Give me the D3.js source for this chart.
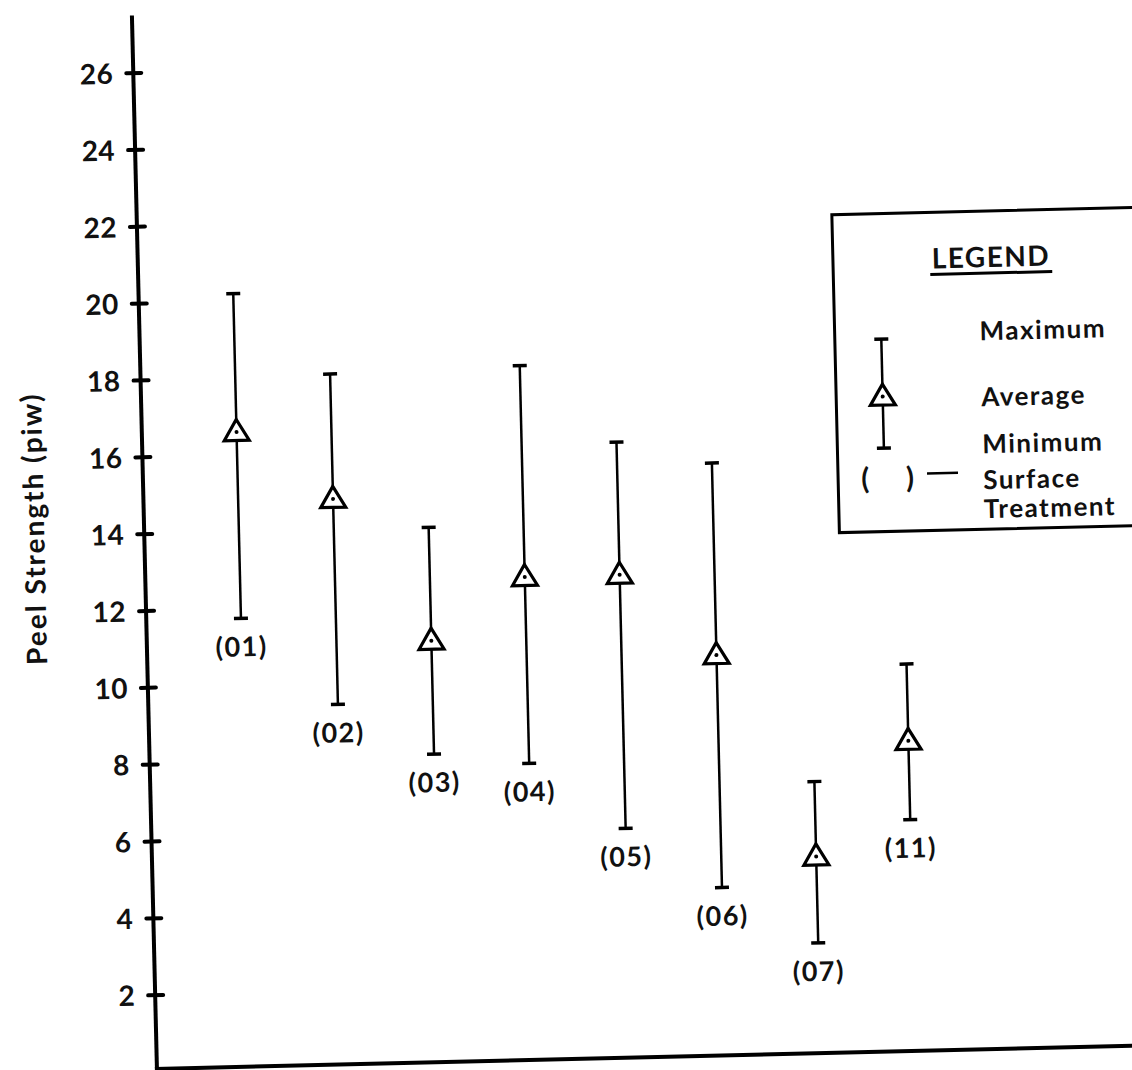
<!DOCTYPE html>
<html>
<head>
<meta charset="utf-8">
<script src="https://cdn.jsdelivr.net/npm/d3@7"></script>
<style>
  body { margin: 0; background: #fff; }
  svg { display: block; }
  text { font-family: Lato, "DejaVu Sans", sans-serif; fill: #111; }
</style>
</head>
<body>
<div id="chart"></div>
<script>
"use strict";

// values (peel strength, piw)
const treatments = ["01", "02", "03", "04", "05", "06", "07", "11"];
const maxValues  = [20.2, 18.05, 14.0, 18.15, 16.1, 15.5, 7.15, 10.15];
const avgValues  = [16.6, 14.8, 11.05, 12.65, 12.65, 10.5, 5.2, 8.15];
const minValues  = [11.75, 9.45, 8.1, 7.8, 6.05, 4.45, 2.95, 6.1];
const yTicks     = [2, 4, 6, 8, 10, 12, 14, 16, 18, 20, 22, 24, 26];
const yLabel     = "Peel Strength (piw)";
const legendTitle = "LEGEND";
const legendLabels = ["Maximum", "Average", "Minimum", "Surface", "Treatment"];

const width = 1132, height = 1070;
const ox = 157, oy = 1072;   // origin of the axes
const tilt = -1.36;          // the scan is slightly rotated

const data = treatments.map((t, i) => ({
    name: t, max: maxValues[i], avg: avgValues[i], min: minValues[i]
}));

const svg = d3.select("#chart").append("svg")
    .attr("width", width)
    .attr("height", height);

const g = svg.append("g")
    .attr("transform", "rotate(" + tilt + "," + ox + "," + oy + ")");

const x = d3.scalePoint().domain(treatments).range([251.7, 916]);
const y = d3.scaleLinear().domain([0, 26]).range([oy, oy - 26 * 38.43]);

// axes
g.append("line")
    .attr("x1", ox).attr("x2", ox)
    .attr("y1", y(0)).attr("y2", y(27.5))
    .style("stroke", "#000").style("stroke-width", 4);
g.append("line")
    .attr("x1", ox - 2).attr("x2", 1220)
    .attr("y1", y(0.08)).attr("y2", y(0.08))
    .style("stroke", "#000").style("stroke-width", 4);

const ticks = g.selectAll("g.tick").data(yTicks).enter()
    .append("g").attr("class", "tick")
    .attr("transform", d => "translate(" + ox + "," + y(d) + ")");
ticks.append("line")
    .attr("x1", -7).attr("x2", 8)
    .style("stroke", "#000").style("stroke-width", 4)
    .style("stroke-linecap", "round");
ticks.append("text")
    .attr("x", -20).attr("dy", "0.36em")
    .style("text-anchor", "end")
    .style("font-size", "28px").style("font-weight", "bold")
    .style("letter-spacing", "0.5px")
    .text(d => d);

g.append("text")
    .attr("transform", "translate(57,526) rotate(-90)")
    .style("text-anchor", "middle")
    .style("font-size", "28px").style("font-weight", "bold")
    .style("letter-spacing", "2px")
    .text(yLabel);

// error bars
function triangle(sel) {
    sel.append("path")
        .attr("d", "M0,-12.5 L12.5,8.5 L-12.5,8.5 Z")
        .style("fill", "#fff").style("stroke", "#000")
        .style("stroke-width", 3.2).style("stroke-linejoin", "miter");
    sel.append("circle").attr("r", 2).style("fill", "#000");
}

const bars = g.selectAll("g.bar").data(data).enter()
    .append("g").attr("class", "bar")
    .attr("transform", d => "translate(" + x(d.name) + ",0)");
bars.append("line")
    .attr("y1", d => y(d.max)).attr("y2", d => y(d.min))
    .style("stroke", "#000").style("stroke-width", 2.5);
bars.selectAll("line.cap")
    .data(d => [d.max, d.min]).enter()
    .append("line").attr("class", "cap")
    .attr("x1", -7).attr("x2", 7)
    .attr("y1", v => y(v)).attr("y2", v => y(v))
    .style("stroke", "#000").style("stroke-width", 3.5);
bars.append("g")
    .attr("transform", d => "translate(0," + y(d.avg) + ")")
    .call(triangle);
bars.append("text")
    .attr("y", d => y(d.min) + 38)
    .style("text-anchor", "middle")
    .style("font-size", "27px").style("font-weight", "bold")
    .style("letter-spacing", "1.5px")
    .text(d => "(" + d.name + ")");

// legend
const lg = g.append("g");
lg.append("rect")
    .attr("x", 852).attr("y", 231)
    .attr("width", 340).attr("height", 318)
    .style("fill", "none").style("stroke", "#000").style("stroke-width", 3);
lg.append("text")
    .attr("x", 1010).attr("y", 287)
    .style("text-anchor", "middle")
    .style("font-size", "28px").style("font-weight", "bold")
    .style("letter-spacing", "1.5px")
    .text(legendTitle);
lg.append("line")
    .attr("x1", 949).attr("x2", 1071)
    .attr("y1", 293).attr("y2", 293)
    .style("stroke", "#000").style("stroke-width", 3);

const legendY = [360, 426, 473, 509, 538];
lg.selectAll("text.item").data(legendLabels).enter()
    .append("text").attr("class", "item")
    .attr("x", 997).attr("y", (d, i) => legendY[i])
    .style("font-size", "26px").style("font-weight", "bold")
    .style("letter-spacing", "1.5px")
    .text(d => d);

const sym = lg.append("g").attr("transform", "translate(898.5,0)");
sym.append("line").attr("y1", 356.5).attr("y2", 465.5)
    .style("stroke", "#000").style("stroke-width", 2.5);
sym.selectAll("line.cap").data([356.5, 465.5]).enter()
    .append("line").attr("class", "cap")
    .attr("x1", -7).attr("x2", 7)
    .attr("y1", d => d).attr("y2", d => d)
    .style("stroke", "#000").style("stroke-width", 3.5);
sym.append("g").attr("transform", "translate(0,414)").call(triangle);

lg.append("text").attr("x", 879).attr("y", 506)
    .style("text-anchor", "middle").style("font-size", "29px").style("font-weight", "bold")
    .text("(");
lg.append("text").attr("x", 924).attr("y", 506)
    .style("text-anchor", "middle").style("font-size", "29px").style("font-weight", "bold")
    .text(")");
lg.append("line")
    .attr("x1", 941).attr("x2", 972)
    .attr("y1", 492).attr("y2", 492)
    .style("stroke", "#000").style("stroke-width", 2.5);
</script>
</body>
</html>
